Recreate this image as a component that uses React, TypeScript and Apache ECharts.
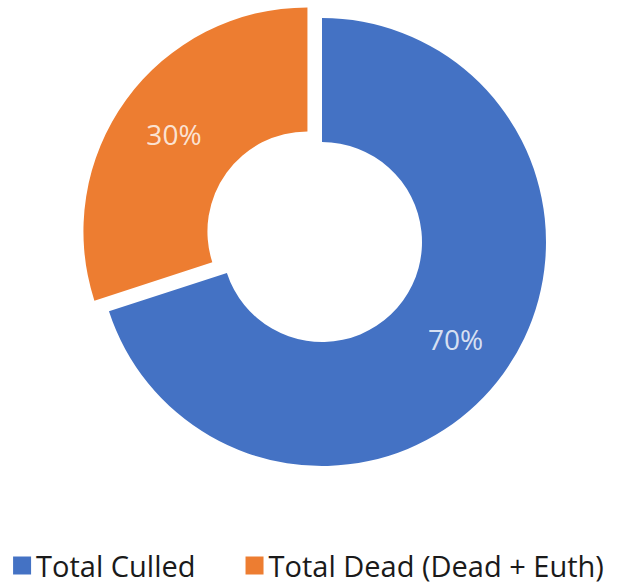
import React, { useEffect, useRef } from "react";
import * as echarts from "echarts";

const categories = ["Total Culled", "Total Dead (Dead + Euth)"];
const shares = [70, 30];
const colors = ["#4472C4", "#ED7D31"];
const explodedIndex = 1;

export default function App() {
  const ref = useRef<HTMLDivElement>(null);
  useEffect(() => {
    if (!ref.current) return;
    const chart = echarts.init(ref.current, null, { renderer: "svg" });
    chart.setOption({
      animation: false,
      backgroundColor: "#ffffff",
      legend: {
        data: categories,
        left: "center",
        top: 551,
        icon: "rect",
        itemWidth: 18,
        itemHeight: 18,
        itemGap: 50,
        padding: 0,
        textStyle: {
          fontFamily: "'Open Sans', 'Noto Sans', sans-serif",
          fontSize: 29,
          color: "#1a1a1a",
        },
        selectedMode: false,
      },
      series: [
        {
          type: "pie",
          center: [322, 242],
          radius: [100, 224],
          startAngle: 90,
          clockwise: true,
          selectedMode: "single",
          selectedOffset: 18,
          avoidLabelOverlap: false,
          label: {
            show: true,
            position: "inside",
            formatter: "{c}%",
            fontFamily: "'Open Sans', 'Noto Sans', sans-serif",
            fontSize: 28,
            color: "rgba(255,255,255,0.8)",
          },
          labelLine: { show: false },
          emphasis: { disabled: true },
          data: categories.map((name, i) => ({
            name,
            value: shares[i],
            selected: i === explodedIndex,
            itemStyle: { color: colors[i] },
          })),
        },
      ],
    });
    return () => chart.dispose();
  }, []);
  return (
    <div
      ref={ref}
      style={{ position: "absolute", left: 0, top: 0, width: 617, height: 584 }}
    />
  );
}
